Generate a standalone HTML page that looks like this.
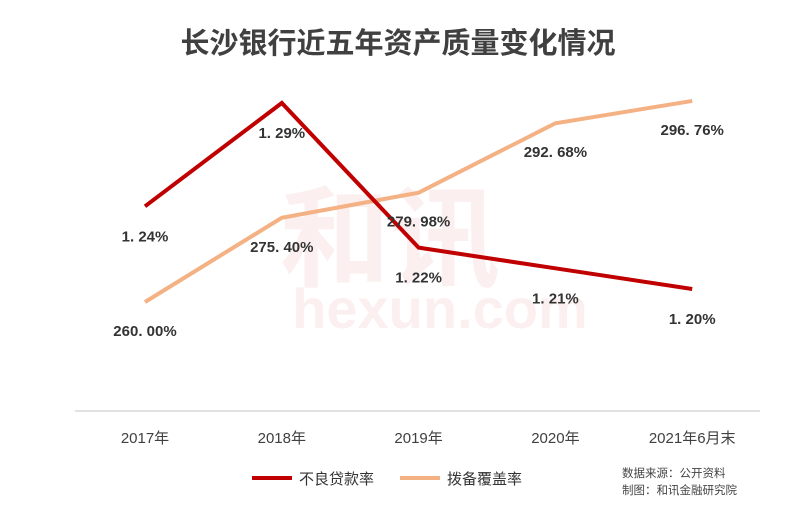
<!DOCTYPE html>
<html><head><meta charset="utf-8"><style>
body{margin:0;background:#fff;}
svg{display:block;font-family:"Liberation Sans","Noto Sans CJK SC",sans-serif;}
</style></head><body>
<svg id="c" width="797" height="510" viewBox="0 0 797 510">
<text x="398" y="53" text-anchor="middle" font-size="29" font-weight="bold" fill="#404040">长沙银行近五年资产质量变化情况</text>
<g opacity="0.07" fill="#d03030">
<text x="390" y="278" text-anchor="middle" font-size="110" font-weight="bold">和讯</text>
<text x="440" y="328" text-anchor="middle" font-size="56" font-weight="bold">hexun.com</text>
</g>
<line x1="75" y1="411" x2="760" y2="411" stroke="#d9d9d9" stroke-width="1.5"/>
<g id="xt"></g><g id="lines"></g><g id="labels"></g>
<g>
<line x1="252" y1="478" x2="292" y2="478" stroke="#C00000" stroke-width="4"/>
<text x="299" y="484" font-size="15" fill="#333">不良贷款率</text>
<line x1="400" y1="478" x2="440" y2="478" stroke="#F4B183" stroke-width="4"/>
<text x="447" y="484" font-size="15" fill="#333">拨备覆盖率</text>
</g>
<text x="622" y="477" font-size="11.5" fill="#444">数据来源：公开资料</text>
<text x="622" y="494" font-size="11.5" fill="#444">制图：和讯金融研究院</text>
</svg>
<script>
const categories=["2017年","2018年","2019年","2020年","2021年6月末"];
const nplValues=[1.24,1.29,1.22,1.21,1.20];
const coverageValues=[260.00,275.40,279.98,292.68,296.76];
const NS="http://www.w3.org/2000/svg";
const xPos=i=>145+i*136.8;
const yNpl=v=>289-(v-1.20)*2067;
const yCov=v=>302-(v-260)*5.47;
function mk(t,a,p){const e=document.createElementNS(NS,t);for(const k in a)e.setAttribute(k,a[k]);p.appendChild(e);return e;}
const xt=document.getElementById('xt'),lines=document.getElementById('lines'),labels=document.getElementById('labels');
categories.forEach((c,i)=>{const t=mk('text',{x:xPos(i),y:443,'text-anchor':'middle','font-size':15,fill:'#404040'},xt);t.textContent=c;

});
function series(vals,yf,color,name,dy,fmt){
 const p=mk('polyline',{points:vals.map((v,i)=>xPos(i)+','+yf(v)).join(' '),fill:'none',stroke:color,'stroke-width':4,'stroke-linejoin':'miter'},lines);
 
 
 vals.forEach((v,i)=>{const t=mk('text',{x:xPos(i),y:yf(v)+dy,'text-anchor':'middle','font-size':15,'font-weight':'bold',fill:'#333'},labels);
 t.textContent=fmt(v);
 
 });
}
series(coverageValues,yCov,'#F4B183','coverage',34,v=>v.toFixed(2).replace('.','. ')+'%');
series(nplValues,yNpl,'#C00000','npl',35,v=>v.toFixed(2).replace('.','. ')+'%');
</script>
</body></html>
